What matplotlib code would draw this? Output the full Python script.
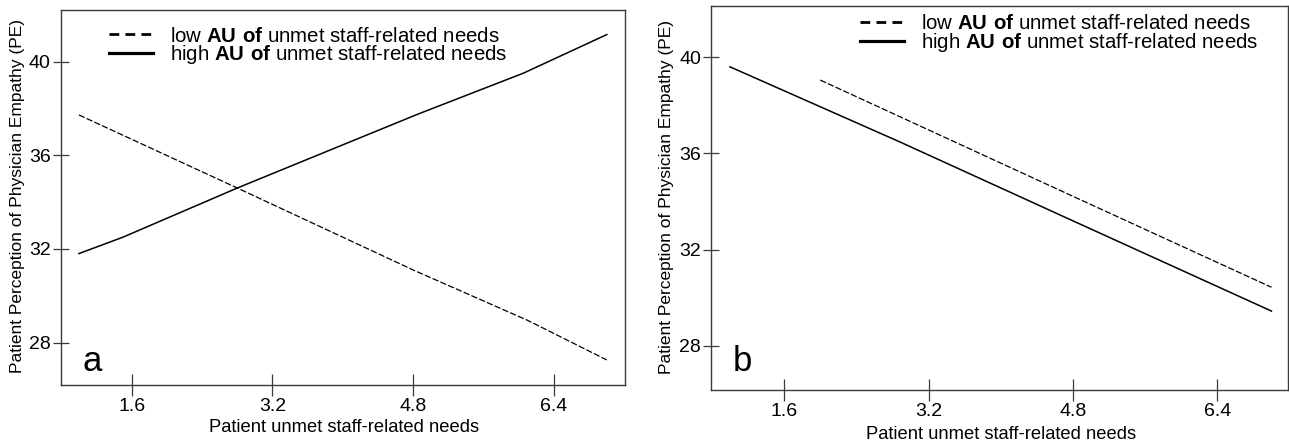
import matplotlib
matplotlib.use("Agg")
import matplotlib.pyplot as plt
from matplotlib.lines import Line2D

plt.rcParams['font.family'] = ['Liberation Sans', 'DejaVu Sans']
plt.rcParams['mathtext.fontset'] = 'custom'
plt.rcParams['mathtext.rm'] = 'Liberation Sans'
plt.rcParams['mathtext.bf'] = 'Liberation Sans:bold'
plt.rcParams['lines.scale_dashes'] = False

# ---- data ----
xticks = [1.6, 3.2, 4.8, 6.4]
xtick_labels = ["1.6", "3.2", "4.8", "6.4"]
yticks = [28, 32, 36, 40]
ytick_labels = ["28", "32", "36", "40"]

a_low_x = [1.0, 2.8, 4.8, 6.1, 7.0]
a_low_y = [37.72, 34.6, 31.1, 28.95, 27.26]
a_high_x = [1.0, 1.5, 2.8, 4.85, 6.05, 7.0]
a_high_y = [31.8, 32.5, 34.6, 37.75, 39.5, 41.15]

b_low_x = [2.0, 3.2, 4.8, 6.4, 7.0]
b_low_y = [39.05, 36.98, 34.22, 31.47, 30.44]
b_high_x = [1.0, 2.9, 4.8, 7.0]
b_high_y = [39.6, 36.45, 33.2, 29.45]

legend_labels = [r"low $\mathbf{AU\ of}$ unmet staff-related needs",
                 r"high $\mathbf{AU\ of}$ unmet staff-related needs"]
xlabel = "Patient unmet staff-related needs"
ylabel = "Patient Perception of Physician Empathy (PE)"
panel_letters = ["a", "b"]

W, H = 1289, 443
fig = plt.figure(figsize=(W / 100, H / 100), dpi=100)

def fr(l, t, r, b):
    return [l / W, 1 - b / H, (r - l) / W, (b - t) / H]

ax_a = fig.add_axes(fr(60.7, 10, 625, 385))
ax_b = fig.add_axes(fr(711, 5.7, 1287.7, 390))

frame_col = '#3a3a3a'

def style(ax, xlim, ylim, letter, letter_y, leg_anchor, xl_y, yl_x):
    ax.set_xlim(*xlim)
    ax.set_ylim(*ylim)
    ax.set_xticks(xticks)
    ax.set_xticklabels(xtick_labels)
    ax.set_yticks(yticks)
    ax.set_yticklabels(ytick_labels)
    for s in ax.spines.values():
        s.set_color(frame_col)
        s.set_linewidth(1.0)
    ax.tick_params(axis='x', direction='inout', length=16, width=0.9,
                   color=frame_col, labelsize=14, pad=1.5)
    ax.tick_params(axis='y', direction='inout', length=11.5, width=0.9,
                   color=frame_col, labelsize=14, pad=1.5)
    ax.set_xlabel(xlabel, fontsize=13.2)
    ax.set_ylabel(ylabel, fontsize=12.5)
    ax.xaxis.label.set_va('baseline')
    ax.xaxis.set_label_coords(0.503, xl_y)
    ax.yaxis.set_label_coords(yl_x, 0.503)
    ax.text(0.038, letter_y, letter, transform=ax.transAxes, fontsize=25,
            ha='left', va='baseline')
    handles = [Line2D([], [], color='black', lw=2.0, dashes=(7, 4.5)),
               Line2D([], [], color='black', lw=2.3)]
    ax.legend(handles, legend_labels, loc='upper left',
              bbox_to_anchor=leg_anchor, borderaxespad=0, borderpad=0,
              frameon=False, fontsize=14.7, handlelength=2.15,
              handletextpad=0.85, labelspacing=-0.1)

ax_a.plot(a_low_x, a_low_y, color='black', lw=0.9, dashes=(4.5, 1.6))
ax_a.plot(a_high_x, a_high_y, color='black', lw=1.1)
style(ax_a, (0.793, 7.207), (26.19, 42.2), panel_letters[0], 0.037,
      (0.086, 0.956), -0.126, -0.063)

ax_b.plot(b_low_x, b_low_y, color='black', lw=0.9, dashes=(4.5, 1.6))
ax_b.plot(b_high_x, b_high_y, color='black', lw=1.1)
style(ax_b, (0.79, 7.18), (26.17, 42.14), panel_letters[1], 0.05,
      (0.258, 0.979), -0.1275, -0.064)

fig.savefig("out.png", dpi=100)
